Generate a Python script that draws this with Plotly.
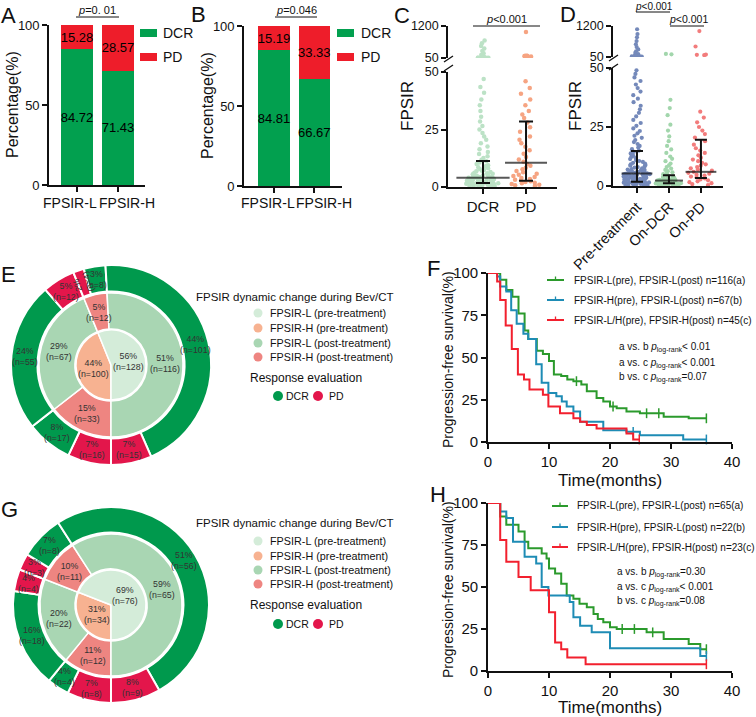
import math
import plotly.graph_objects as go

W, H = 756, 717
def px(x): return x / W
def py(y): return 1 - y / H

FONT = "Arial, 'Liberation Sans', Helvetica, sans-serif"
INK = "#111111"

# ================= DATA =================
# Panels A & B (percentage of DCR / PD)
ab_groups = ["FPSIR-L", "FPSIR-H"]
a_dcr = [84.72, 71.43]
a_pd = [15.28, 28.57]
b_dcr = [84.81, 66.67]
b_pd = [15.19, 33.33]

# Panel C (FPSIR by response)
c_groups = ["DCR", "PD"]
c_dcr_low = [0.2, 0.4, 0.5, 0.6, 0.7, 0.8, 0.9, 1.0, 1.0, 1.1, 1.2, 1.3, 1.3, 1.4, 1.5, 1.6, 1.6, 1.7, 1.8, 1.9,
             2.0, 2.1, 2.1, 2.2, 2.3, 2.4, 2.5, 2.5, 2.6, 2.7, 2.8, 2.9, 3.0, 3.0, 3.1, 3.2, 3.3, 3.4, 3.5, 3.6,
             3.7, 3.8, 3.9, 4.0, 4.1, 4.2, 4.4, 4.5, 4.7, 4.9, 5.1, 5.3, 5.5, 5.8, 6.0, 6.2, 6.5, 6.8, 7.1, 7.4,
             7.8, 8.2, 8.6, 9.0, 9.5, 10.0, 10.6, 11.2, 11.9, 12.6, 13.4, 14.3, 15.2, 16.4, 17.6, 19.0, 20.5,
             22.0, 23.5, 25.0, 26.5, 28.5, 30.5, 33.0, 35.5, 38.0, 41.0, 43.5, 47.0]
c_dcr_high = [52, 55, 58, 62, 66, 72, 80, 95, 120, 160, 220, 300, 390, 480, 580, 680]
c_pd_low = [0.5, 0.8, 1.0, 1.3, 1.6, 1.9, 2.2, 2.5, 2.8, 3.1, 3.5, 3.9, 4.3, 4.8, 5.3, 5.8, 6.4, 7.0, 7.7, 8.4,
            9.2, 10.0, 11.0, 12.0, 13.0, 14.5, 16.0, 17.5, 19.0, 20.5, 22.0, 24.0, 26.0, 28.0, 30.0, 31.5,
            33.0, 35.5, 38.0, 40.5, 43.0, 46.0]
c_pd_high = [108, 114, 118, 122, 128, 134, 985]
c_median = [4.0, 10.5]
c_q1 = [1.7, 2.7]
c_q3 = [11.3, 28.5]

# Panel D (FPSIR pre / on treatment)
d_groups = ["Pre-treatment", "On-DCR", "On-PD"]
d_pre_low = [0.2, 0.3, 0.4, 0.5, 0.6, 0.7, 0.8, 0.9, 1.0, 1.0, 1.1, 1.2, 1.3, 1.4, 1.5, 1.5, 1.6, 1.7, 1.8, 1.9,
             2.0, 2.0, 2.1, 2.2, 2.3, 2.4, 2.5, 2.5, 2.6, 2.7, 2.8, 2.9, 3.0, 3.0, 3.1, 3.2, 3.3, 3.4, 3.5, 3.6,
             3.7, 3.8, 3.9, 4.0, 4.1, 4.2, 4.3, 4.4, 4.5, 4.6, 4.7, 4.8, 4.9, 5.0, 5.1, 5.2, 5.4, 5.5, 5.7, 5.9,
             6.0, 6.2, 6.4, 6.6, 6.8, 7.0, 7.2, 7.5, 7.8, 8.0, 8.3, 8.6, 8.9, 9.2, 9.5, 9.8, 10.2, 10.6, 11.0,
             11.4, 11.8, 12.3, 12.8, 13.3, 13.8, 14.4, 15.0, 15.6, 16.3, 17.0, 17.8, 18.6, 19.5, 20.4, 21.3,
             22.3, 23.3, 24.4, 25.5, 26.7, 28.0, 29.5, 31.0, 32.5, 34.0, 35.5, 37.0, 38.5, 40.0, 41.5, 43.0,
             44.5, 46.0, 47.5, 49.0]
d_pre_high = [55, 60, 65, 70, 72, 75, 80, 85, 90, 100, 115, 130, 160, 200, 260, 330, 420, 520, 640, 780, 900, 1080]
d_dcr_low = [0.1, 0.2, 0.3, 0.4, 0.5, 0.5, 0.6, 0.7, 0.8, 0.8, 0.9, 1.0, 1.0, 1.1, 1.2, 1.2, 1.3, 1.4, 1.5, 1.5,
             1.6, 1.7, 1.8, 1.9, 2.0, 2.0, 2.1, 2.2, 2.3, 2.4, 2.5, 2.6, 2.7, 2.8, 2.9, 3.0, 3.2, 3.4, 3.6, 3.8,
             4.0, 4.3, 4.6, 5.0, 5.4, 5.8, 6.3, 6.8, 7.4, 8.0, 8.7, 9.5, 10.5, 11.5, 12.5, 14.0, 15.5, 17.0,
             19.0, 21.0, 23.5, 26.0, 30.0, 33.0, 36.5]
d_dcr_high = [150, 165]
d_pd_low = [0.4, 0.8, 1.2, 1.6, 2.0, 2.4, 2.8, 3.2, 3.6, 4.0, 4.4, 4.8, 5.2, 5.6, 6.0, 6.5, 7.0, 7.5, 8.0, 8.6,
            9.2, 9.8, 10.5, 11.2, 12.0, 13.0, 14.0, 15.0, 16.0, 17.5, 19.0, 20.5, 22.0, 23.5, 25.0, 27.0,
            29.0, 31.5]
d_pd_high = [120, 130, 140, 440, 1010]
d_median = [5.3, 2.3, 6.0]
d_q1 = [1.8, 1.2, 3.4]
d_q3 = [14.8, 4.6, 19.6]

# Panel E (nested donut, clockwise from 6 o'clock)
e_inner_n = [100, 128]
e_inner_pct = [44, 56]
e_inner_cls = ["H-pre", "L-pre"]
e_mid_n = [33, 67, 12, 116]
e_mid_pct = [15, 29, 5, 51]
e_mid_cls = ["H-post", "L-post", "H-post", "L-post"]
e_out_n = [16, 17, 55, 12, 4, 8, 101, 15]
e_out_pct = [7, 8, 24, 5, 2, 3, 44, 7]
e_out_cls = ["PD", "DCR", "DCR", "PD", "PD", "DCR", "DCR", "PD"]

# Panel G
g_inner_n = [34, 76]
g_inner_pct = [31, 69]
g_inner_cls = ["H-pre", "L-pre"]
g_mid_n = [12, 22, 11, 65]
g_mid_pct = [11, 20, 10, 59]
g_mid_cls = ["H-post", "L-post", "H-post", "L-post"]
g_out_n = [8, 4, 18, 4, 3, 8, 56, 9]
g_out_pct = [7, 4, 16, 4, 3, 7, 51, 8]
g_out_cls = ["PD", "DCR", "DCR", "PD", "PD", "DCR", "DCR", "PD"]

legend_items = ["FPSIR-L (pre-treatment)", "FPSIR-H (pre-treatment)",
                "FPSIR-L (post-treatment)", "FPSIR-H (post-treatment)"]
legend_cls = ["L-pre", "H-pre", "L-post", "H-post"]

# Panel F (Kaplan-Meier, PFS %)
f_a_t = [0, 2, 3, 4, 5, 6, 6.6, 8, 9, 10, 10.8, 12, 13, 14, 15.3, 16.2, 17.8, 18.9, 20, 21.1, 22.7, 24.9, 28.8, 32.9, 35.8]
f_a_s = [100, 96, 90, 86, 76, 66, 61, 54, 52, 48, 40, 39, 37, 36, 34, 30, 26, 24, 21, 20, 18, 17, 15, 14, 14]
f_a_cens = [14.5, 20.5, 26.0, 28.0, 35.8]
f_b_t = [0, 1.5, 2, 3, 3.8, 4.7, 5.8, 6.6, 7.9, 8.8, 9.9, 11.2, 12.1, 12.9, 14, 15.1, 18.9, 22.7, 24.9, 32, 35.8]
f_b_s = [100, 98, 92, 89, 78, 70, 64, 61, 46, 35, 29, 27, 24, 21, 18, 12, 7, 6, 4, 1.5, 1.5]
f_b_cens = [23.8, 35.8]
f_c_t = [0, 1.5, 2, 2.9, 3.9, 4.9, 5.9, 6.8, 9, 9.9, 11.8, 14, 15.1, 16.2, 17.8, 22.7, 23.8, 24.8]
f_c_s = [100, 95, 84, 69, 55, 40, 37, 31, 28, 21, 17, 14, 12, 10, 8, 5, 1.5, 1.5]
f_c_cens = [24.8]
f_labels = ["FPSIR-L(pre), FPSIR-L(post) n=116(a)",
            "FPSIR-H(pre), FPSIR-L(post) n=67(b)",
            "FPSIR-L/H(pre), FPSIR-H(post) n=45(c)"]
f_comp = ["a vs. b", "a vs. c", "b vs. c"]
f_pval = ["&lt; 0.01", "&lt; 0.001", "=0.07"]

# Panel H
h_a_t = [0, 2, 3, 5, 6, 6.6, 8.8, 9.6, 10, 11, 12, 12.9, 14, 15, 16.2, 17.3, 18, 18.9, 20, 21.1, 26, 28.8, 32.9, 34.8, 35.8]
h_a_s = [100, 92, 87, 83, 77, 73, 70, 67, 61, 58, 52, 45, 43, 40, 38, 34, 31, 29, 26, 25, 23, 19, 16, 13, 13]
h_a_cens = [22.0, 24.0, 27.0, 35.8]
h_b_t = [0, 2, 3, 4.1, 6, 7.9, 8.8, 9.9, 13.4, 14, 15.1, 17, 20, 34.8, 35.8]
h_b_s = [100, 95, 91, 77, 68, 64, 50, 45, 41, 32, 27, 23, 13.6, 9, 9]
h_b_cens = [35.8]
h_c_t = [0, 2, 3, 5, 7, 10, 11, 12, 13, 16, 35.8]
h_c_s = [100, 78, 65, 56, 48, 35, 17, 13, 8, 4, 4]
h_c_cens = [35.8]
h_labels = ["FPSIR-L(pre), FPSIR-L(post) n=65(a)",
            "FPSIR-H(pre), FPSIR-L(post) n=22(b)",
            "FPSIR-L/H(pre), FPSIR-H(post) n=23(c)"]
h_comp = ["a vs. b", "a vs. c", "b vs. c"]
h_pval = ["=0.30", "&lt; 0.001", "=0.08"]

# ================= STYLE =================
BAR_G, BAR_R = "#02A04F", "#EE1D2A"
COL = {"L-pre": "#D4ECD9", "H-pre": "#F7B291", "L-post": "#A9D6B3", "H-post": "#EE8581",
       "DCR": "#00994D", "PD": "#E3164B"}
KM = ["#2B9A2C", "#1E8CB5", "#F2202E"]

fig = go.Figure()
ann, shapes = [], []

def label(x, y, text, size, anchor="center", angle=0, color=INK, yanchor="middle"):
    ann.append(dict(x=px(x), y=py(y), xref="paper", yref="paper", text=text, showarrow=False,
                    font=dict(size=size, color=color, family=FONT), xanchor=anchor, yanchor=yanchor,
                    textangle=angle))

def seg(x0, y0, x1, y1, color=INK, width=1.2):
    shapes.append(dict(type="line", xref="paper", yref="paper", x0=px(x0), y0=py(y0), x1=px(x1), y1=py(y1),
                       line=dict(color=color, width=width)))

def rect(x0, y0, x1, y1, color):
    shapes.append(dict(type="rect", xref="paper", yref="paper", x0=px(x0), y0=py(y1), x1=px(x1), y1=py(y0),
                       fillcolor=color, line=dict(width=0)))

def dot(cx, cy, r, color):
    shapes.append(dict(type="circle", xref="paper", yref="paper", x0=px(cx - r), x1=px(cx + r),
                       y0=py(cy + r), y1=py(cy - r), fillcolor=color, line=dict(width=0)))

# ---------- A & B bars ----------
for dcr, pdv, xa, ya, bw in [(a_dcr, a_pd, "x", "y", 0.78), (b_dcr, b_pd, "x2", "y2", 0.77)]:
    for vals, col in [(dcr, BAR_G), (pdv, BAR_R)]:
        fig.add_trace(go.Bar(x=ab_groups, y=vals, width=bw, marker=dict(color=col, line=dict(width=0)),
                             text=[f"{v:.2f}" for v in vals], textposition="inside",
                             insidetextanchor="middle", textangle=0,
                             insidetextfont=dict(size=13, color="black", family=FONT),
                             xaxis=xa, yaxis=ya, hoverinfo="skip"))

# category labels under A and B (set apart as in the original so they do not collide)
for (x_l, x_h) in [(70, 127), (268, 324)]:
    label(x_l, 203, ab_groups[0], 14)
    label(x_h, 203, ab_groups[1], 14)

# ---------- C & D strips ----------
def strip(vals, cat, color, xa, ya, width, size=4.5):
    fig.add_trace(go.Box(x=[cat] * len(vals), y=vals, boxpoints="all", jitter=1, pointpos=0, width=width,
                         marker=dict(color=color, size=size, line=dict(width=0)),
                         fillcolor="rgba(0,0,0,0)", line=dict(color="rgba(0,0,0,0)", width=0),
                         xaxis=xa, yaxis=ya, hoverinfo="skip"))

strip(c_dcr_low, "DCR", "#BCE2C6", "x3", "y3", 0.8)
strip(c_dcr_high, "DCR", "#BCE2C6", "x3", "y4", 0.4)
strip(c_pd_low, "PD", "#F6A482", "x3", "y3", 0.8)
strip(c_pd_high, "PD", "#F6A482", "x3", "y4", 0.45)

strip(d_pre_low, "Pre-treatment", "#7489BA", "x4", "y5", 0.85, 4.2)
strip(d_pre_high, "Pre-treatment", "#7489BA", "x4", "y6", 0.4, 4.2)
strip(d_dcr_low, "On-DCR", "#A2D6AC", "x4", "y5", 0.85, 4.2)
strip(d_dcr_high, "On-DCR", "#A2D6AC", "x4", "y6", 0.3, 4.2)
strip(d_pd_low, "On-PD", "#F27C7C", "x4", "y5", 0.85, 4.2)
strip(d_pd_high, "On-PD", "#F27C7C", "x4", "y6", 0.4, 4.2)

def med_iqr(cats, med, q1, q3, xa, ya, msize, cap):
    fig.add_trace(go.Scatter(x=cats, y=med, mode="markers",
                             marker=dict(symbol="line-ew", size=msize, color=INK, line=dict(width=2, color=INK)),
                             error_y=dict(type="data", symmetric=False,
                                          array=[b - m for b, m in zip(q3, med)],
                                          arrayminus=[m - a for m, a in zip(med, q1)],
                                          width=cap, thickness=2, color=INK),
                             xaxis=xa, yaxis=ya, hoverinfo="skip", cliponaxis=False))

med_iqr(c_groups, c_median, c_q1, c_q3, "x3", "y3", [38, 30], 7)
med_iqr(d_groups, d_median, d_q1, d_q3, "x4", "y5", [22, 20, 22], 6)

# ---------- E & G donuts ----------
def ring(vals, cls, cx, cy, r, hole, lw):
    fig.add_trace(go.Pie(values=vals, labels=[f"s{i}" for i in range(len(vals))],
                         marker=dict(colors=[COL[c] for c in cls], line=dict(color="white", width=lw)),
                         hole=hole, sort=False, direction="clockwise", rotation=180, textinfo="none",
                         domain=dict(x=[px(cx - r), px(cx + r)], y=[py(cy + r), py(cy - r)]),
                         hoverinfo="skip", showlegend=False, automargin=False))

def ring_labels(vals, pcts, cx, cy, r_in, r_out):
    tot = float(sum(vals))
    ang = 180.0
    rm = (r_in + r_out) / 2.0
    for v, p in zip(vals, pcts):
        span = v / tot * 360.0
        mid = ang + span / 2.0
        x = cx + rm * math.sin(math.radians(mid))
        y = cy - rm * math.cos(math.radians(mid))
        tilt = (mid - 360.0) - 90.0 if v / tot < 0.02 else 0
        label(x, y, f"{p}%<br>(n={v})", 8.8, color="#333333", angle=tilt)
        ang += span

def donut(inner_n, inner_pct, inner_cls, mid_n, mid_pct, mid_cls, out_n, out_pct, out_cls, cx, cy, R, Rm, Ri):
    ring(out_n, out_cls, cx, cy, R, (Rm + 1.5) / R, 2)
    ring(mid_n, mid_cls, cx, cy, Rm, (Ri + 1) / Rm, 1.5)
    ring(inner_n, inner_cls, cx, cy, Ri, 0, 1.5)
    ring_labels(out_n, out_pct, cx, cy, Rm + 1.5, R)
    ring_labels(mid_n, mid_pct, cx, cy, Ri + 1, Rm)
    ring_labels(inner_n, inner_pct, cx, cy, 0, Ri)

donut(e_inner_n, e_inner_pct, e_inner_cls, e_mid_n, e_mid_pct, e_mid_cls, e_out_n, e_out_pct, e_out_cls,
      111, 365, 100, 72, 35)
donut(g_inner_n, g_inner_pct, g_inner_cls, g_mid_n, g_mid_pct, g_mid_cls, g_out_n, g_out_pct, g_out_cls,
      111, 605, 98, 71, 35)

def donut_legend(y_title, ys, y_resp, y_dots):
    label(194, y_title, "FPSIR dynamic change during Bev/CT", 11.5, anchor="left")
    for yy, txt, c in zip(ys, legend_items, legend_cls):
        dot(258, yy, 4.5, COL[c])
        label(268, yy, txt, 10.8, anchor="left")
    label(248, y_resp, "Response evaluation", 12, anchor="left")
    dot(278, y_dots, 5, COL["DCR"])
    label(284, y_dots, "DCR", 10.5, anchor="left")
    dot(318, y_dots, 5, COL["PD"])
    label(327, y_dots, "PD", 10.5, anchor="left")

donut_legend(297, [313, 328, 343, 357], 378, 396)
donut_legend(523, [541, 556, 570, 584], 605, 624)

# ---------- F & H Kaplan-Meier ----------
def surv_at(ts, ss, t):
    v = ss[0]
    for ti, si in zip(ts, ss):
        if ti <= t:
            v = si
    return v

def km(ts, ss, cens, color, xa, ya):
    fig.add_trace(go.Scatter(x=ts, y=ss, mode="lines", line=dict(shape="hv", color=color, width=2),
                             xaxis=xa, yaxis=ya, hoverinfo="skip"))
    fig.add_trace(go.Scatter(x=cens, y=[surv_at(ts, ss, c) for c in cens], mode="markers",
                             marker=dict(symbol="line-ns", size=7, color=color, line=dict(width=1.5, color=color)),
                             xaxis=xa, yaxis=ya, hoverinfo="skip", cliponaxis=False))

km(f_a_t, f_a_s, f_a_cens, KM[0], "x5", "y7")
km(f_b_t, f_b_s, f_b_cens, KM[1], "x5", "y7")
km(f_c_t, f_c_s, f_c_cens, KM[2], "x5", "y7")
km(h_a_t, h_a_s, h_a_cens, KM[0], "x6", "y8")
km(h_b_t, h_b_s, h_b_cens, KM[1], "x6", "y8")
km(h_c_t, h_c_s, h_c_cens, KM[2], "x6", "y8")

def km_legend(x0, x1, xt, ys, labels, xp, yps, comps, pvals):
    for yy, txt, c in zip(ys, labels, KM):
        seg(x0, yy, x1, yy, c, 2)
        seg((x0 + x1) / 2, yy - 3.5, (x0 + x1) / 2, yy, c, 1.3)
        label(xt, yy, txt, 10, anchor="left")
    for yy, cmp_, pv in zip(yps, comps, pvals):
        label(xp, yy, f"{cmp_} <i>p</i><sub>log-rank</sub>{pv}", 10, anchor="left")

km_legend(547, 564, 572, [280, 300, 320], f_labels, 617, [348, 363, 377], f_comp, f_pval)
km_legend(552, 568, 575, [506, 527, 547], h_labels, 615, [572, 587, 601], h_comp, h_pval)

# ---------- decorations: legends, p-values, titles ----------
for xr, xt in [(140, 161), (337, 359)]:
    rect(xr, 29, xr + 17, 37, BAR_G)
    rect(xr, 53, xr + 17, 61, BAR_R)
    label(xt, 33, "DCR", 14, anchor="left")
    label(xt, 57, "PD", 14, anchor="left")

seg(76, 17, 119, 17, width=1)
label(97, 10, "<i>p</i>=0. 01", 11)
seg(275, 17, 317, 17, width=1)
label(296, 10, "<i>p</i>=0.046", 11)
seg(473, 26, 540, 26, width=1)
label(507, 19, "<i>p</i>&lt;0.001", 11)
seg(636, 12, 670, 12, width=1)
label(654, 6, "<i>p</i>&lt;0.001", 10)
seg(670, 26, 704, 26, width=1)
label(688, 19, "<i>p</i>&lt;0.001", 10.5)

# axis breaks
seg(444, 62, 453, 56, width=1.4)
seg(444, 71, 453, 65, width=1.4)
seg(609, 61, 618, 55, width=1.4)
seg(609, 70, 618, 64, width=1.4)

label(12, 105, "Percentage(%)", 16, angle=-90)
label(207, 106, "Percentage(%)", 16, angle=-90)
label(407, 106, "FPSIR", 17, angle=-90)
label(575, 106, "FPSIR", 17, angle=-90)
label(448, 360, "Progression-free survival(%)", 14, angle=-90)
label(448, 590, "Progression-free survival(%)", 14, angle=-90)
label(610, 480, "Time(months)", 17)
label(610, 707, "Time(months)", 17)

for let, x, y in [("A", 8, 15), ("B", 198, 14), ("C", 402, 15), ("D", 568, 14),
                  ("E", 8, 274), ("F", 433, 268), ("G", 9, 509), ("H", 438, 494)]:
    label(x, y, let, 22)

# ================= AXES =================
def ax(**kw):
    d = dict(showline=True, linecolor=INK, linewidth=1.6, ticks="outside", ticklen=5, tickwidth=1.6,
             tickcolor=INK, showgrid=False, zeroline=False, fixedrange=True, automargin=False,
             tickangle=0, tickfont=dict(size=13, color=INK, family=FONT))
    d.update(kw)
    return d

cat_ab = dict(type="category", categoryorder="array", categoryarray=ab_groups, showticklabels=False)

layout_axes = dict(
    xaxis=ax(domain=[px(49), px(145)], range=[-0.683, 1.658], anchor="y", **cat_ab),
    yaxis=ax(domain=[py(185), py(25)], range=[0, 100], tickvals=[0, 50, 100], anchor="x"),
    xaxis2=ax(domain=[px(244), px(342)], range=[-0.744, 1.687], anchor="y2", **cat_ab),
    yaxis2=ax(domain=[py(186), py(26)], range=[0, 100], tickvals=[0, 50, 100], anchor="x2"),
    xaxis3=ax(domain=[px(448), px(557)], range=[-0.814, 1.72], anchor="y3", type="category",
              categoryorder="array", categoryarray=c_groups, tickfont=dict(size=15, color=INK, family=FONT)),
    yaxis3=ax(domain=[py(187), py(72)], range=[0, 50], tickvals=[0, 25, 50], anchor="x3",
              tickfont=dict(size=12.5, color=INK, family=FONT)),
    yaxis4=ax(domain=[py(58), py(26)], range=[50, 1200], tickvals=[50, 1200], anchor="x3",
              tickfont=dict(size=12.5, color=INK, family=FONT)),
    xaxis4=ax(domain=[px(613), px(723)], range=[-0.75, 2.69], anchor="y5", type="category",
              categoryorder="array", categoryarray=d_groups, tickangle=-45,
              tickfont=dict(size=14.5, color=INK, family=FONT)),
    yaxis5=ax(domain=[py(186), py(68)], range=[0, 50], tickvals=[0, 25, 50], anchor="x4",
              tickfont=dict(size=12.5, color=INK, family=FONT)),
    yaxis6=ax(domain=[py(57), py(26)], range=[50, 1200], tickvals=[50, 1200], anchor="x4",
              tickfont=dict(size=12.5, color=INK, family=FONT)),
    xaxis5=ax(domain=[px(488), px(732)], range=[0, 40], tickvals=[0, 10, 20, 30, 40], anchor="y7",
              tickfont=dict(size=15, color=INK, family=FONT)),
    yaxis7=ax(domain=[py(442), py(273)], range=[0, 100], tickvals=[0, 25, 50, 75, 100], anchor="x5",
              tickfont=dict(size=15, color=INK, family=FONT)),
    xaxis6=ax(domain=[px(488), px(732)], range=[0, 40], tickvals=[0, 10, 20, 30, 40], anchor="y8",
              tickfont=dict(size=15, color=INK, family=FONT)),
    yaxis8=ax(domain=[py(671), py(503)], range=[0, 100], tickvals=[0, 25, 50, 75, 100], anchor="x6",
              tickfont=dict(size=15, color=INK, family=FONT)),
)

fig.update_layout(
    template="none",
    width=W, height=H, margin=dict(l=0, r=0, t=0, b=0, pad=0, autoexpand=False),
    paper_bgcolor="white", plot_bgcolor="rgba(0,0,0,0)",
    showlegend=False, barmode="stack", boxmode="overlay",
    font=dict(family=FONT, color=INK),
    uniformtext=dict(minsize=13, mode="show"),
    annotations=ann, shapes=shapes,
    **layout_axes,
)

fig.write_html("out.html")
